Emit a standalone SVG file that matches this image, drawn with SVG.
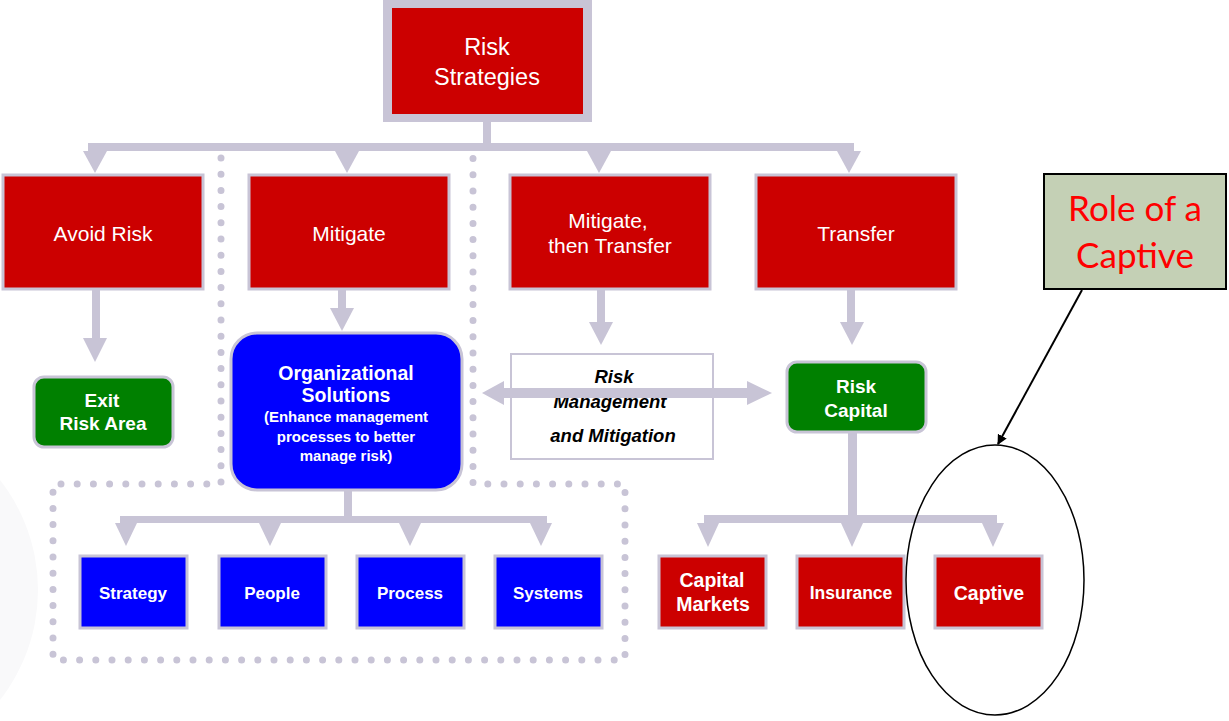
<svg xmlns="http://www.w3.org/2000/svg" width="1229" height="721" viewBox="0 0 1229 721">
  <style>
    .bg { fill: #ffffff; }
    .conn { fill: #C8C4D6; stroke: none; }
    .dots { fill: none; stroke: #C8C4D6; stroke-width: 7; stroke-linecap: round; stroke-dasharray: 0 16.2; }
    .red { fill: #CC0000; stroke: #C8C4D6; stroke-width: 3; }
    .blue { fill: #0000FF; stroke: #C8C4D6; stroke-width: 3; }
    .green { fill: #008000; stroke: #C8C4D6; stroke-width: 3; }
    .lbl { font-family: "Liberation Sans", Arial, sans-serif; fill: #ffffff; text-anchor: middle; }
    .reg { font-size: 21px; }
    .bold { font-weight: bold; }
    .note { font-family: "Liberation Sans", Arial, sans-serif; font-weight: bold; font-style: italic; font-size: 18.5px; fill: #000000; text-anchor: middle; }
    .callout { font-family: Lato, "Open Sans", sans-serif; font-size: 35px; fill: #FF0000; text-anchor: middle; }
  </style>
  <defs>
    <marker id="blackArrow" markerWidth="10" markerHeight="10" refX="9" refY="5" orient="auto" markerUnits="userSpaceOnUse">
      <path d="M0,0 L10,5 L0,10 z" fill="#000000"/>
    </marker>
  </defs>

  <rect class="bg" x="0" y="0" width="1229" height="721"/>
  <!-- faint backdrop arc at the lower left -->
  <circle cx="-140" cy="590" r="178" fill="#F9F9FA"/>

  <!-- dotted grouping around the mitigation branch -->
  <path class="dots" d="M221,158 V484 H53 V660 H625 V484 H473 V158"/>

  <g id="connectors">
    <!-- top tree -->
    <rect class="conn" x="483" y="118" width="8" height="30"/>
    <rect class="conn" x="88" y="143" width="766" height="8"/>
    <path class="conn" d="M83,151 H107 L95,173 z"/>
    <path class="conn" d="M335,151 H359 L347,173 z"/>
    <path class="conn" d="M587,151 H611 L599,173 z"/>
    <path class="conn" d="M837,151 H861 L849,173 z"/>

    <!-- Avoid Risk to Exit -->
    <rect class="conn" x="92" y="290" width="8" height="48"/>
    <path class="conn" d="M83,338 H107 L95,362 z"/>

    <!-- Mitigate to Organizational Solutions -->
    <rect class="conn" x="338" y="290" width="8" height="18"/>
    <path class="conn" d="M330,308 H354 L342,331 z"/>

    <!-- Mitigate, then Transfer down -->
    <rect class="conn" x="597" y="290" width="8" height="32"/>
    <path class="conn" d="M589,322 H613 L601,345 z"/>

    <!-- Transfer to Risk Capital -->
    <rect class="conn" x="847" y="290" width="8" height="32"/>
    <path class="conn" d="M840,322 H864 L852,345 z"/>

    <!-- organizational tree -->
    <rect class="conn" x="344" y="490" width="8" height="28"/>
    <rect class="conn" x="120" y="516" width="427" height="7"/>
    <path class="conn" d="M115,523 H137 L126,546 z"/>
    <path class="conn" d="M259,523 H281 L270,546 z"/>
    <path class="conn" d="M399,523 H421 L410,546 z"/>
    <path class="conn" d="M530,523 H552 L541,546 z"/>

    <!-- risk capital tree -->
    <rect class="conn" x="848" y="432" width="9" height="86"/>
    <rect class="conn" x="704" y="515" width="293" height="8"/>
    <path class="conn" d="M697,523 H719 L708,547 z"/>
    <path class="conn" d="M841,523 H863 L852,547 z"/>
    <path class="conn" d="M982,523 H1004 L993,547 z"/>
  </g>

  <g id="risk-strategies">
    <rect x="383" y="0" width="209" height="122" fill="#C8C4D6"/>
    <rect x="392" y="8" width="191" height="106" fill="#CC0000"/>
    <text class="lbl" x="487" y="55" font-size="23.5">Risk</text>
    <text class="lbl" x="487" y="85" font-size="23.5">Strategies</text>
  </g>

  <g id="avoid-risk">
    <rect class="red" x="3" y="175" width="200" height="114"/>
    <text class="lbl reg" x="103" y="241">Avoid Risk</text>
  </g>
  <g id="mitigate">
    <rect class="red" x="249" y="175" width="200" height="114"/>
    <text class="lbl reg" x="349" y="241">Mitigate</text>
  </g>
  <g id="mitigate-then-transfer">
    <rect class="red" x="510" y="175" width="200" height="114"/>
    <text class="lbl reg" x="608" y="228">Mitigate,</text>
    <text class="lbl reg" x="610" y="253">then Transfer</text>
  </g>
  <g id="transfer">
    <rect class="red" x="756" y="175" width="200" height="114"/>
    <text class="lbl reg" x="856" y="241">Transfer</text>
  </g>

  <g id="exit-risk-area">
    <rect class="green" x="34" y="377" width="139" height="70" rx="10"/>
    <text class="lbl bold" x="102" y="407" font-size="19">Exit</text>
    <text class="lbl bold" x="103" y="430" font-size="19">Risk Area</text>
  </g>

  <g id="organizational-solutions">
    <rect class="blue" x="231" y="333" width="231" height="157" rx="26"/>
    <text class="lbl bold" x="346" y="380" font-size="19.5">Organizational</text>
    <text class="lbl bold" x="346" y="402" font-size="19.5">Solutions</text>
    <text class="lbl bold" x="346" y="422" font-size="15">(Enhance management</text>
    <text class="lbl bold" x="346" y="442" font-size="15">processes to better</text>
    <text class="lbl bold" x="346" y="461" font-size="15">manage risk)</text>
  </g>

  <g id="risk-management-and-mitigation">
    <rect x="511" y="354" width="202" height="105" fill="#ffffff" stroke="#C8C4D6" stroke-width="2"/>
    <text class="note" x="614" y="383">Risk</text>
    <text class="note" x="610" y="408">Management</text>
    <text class="note" x="613" y="442">and Mitigation</text>
  </g>

  <g id="risk-capital">
    <rect class="green" x="787" y="362" width="139" height="70" rx="10"/>
    <text class="lbl bold" x="856" y="393" font-size="19">Risk</text>
    <text class="lbl bold" x="856" y="417" font-size="19">Capital</text>
  </g>

  <!-- two-way link between organizational solutions and risk capital -->
  <g id="connectors-two-way">
    <rect class="conn" x="500" y="388" width="250" height="10"/>
    <path class="conn" d="M482,393 L504,381 V405 z"/>
    <path class="conn" d="M772,393 L747,381 V405 z"/>
  </g>

  <g id="strategy">
    <rect class="blue" x="80" y="556" width="107" height="72"/>
    <text class="lbl bold" x="133" y="599" font-size="17">Strategy</text>
  </g>
  <g id="people">
    <rect class="blue" x="219" y="556" width="107" height="72"/>
    <text class="lbl bold" x="272" y="599" font-size="17">People</text>
  </g>
  <g id="process">
    <rect class="blue" x="357" y="556" width="107" height="72"/>
    <text class="lbl bold" x="410" y="599" font-size="17">Process</text>
  </g>
  <g id="systems">
    <rect class="blue" x="495" y="556" width="107" height="72"/>
    <text class="lbl bold" x="548" y="599" font-size="17">Systems</text>
  </g>

  <g id="capital-markets">
    <rect class="red" x="659" y="556" width="107" height="72"/>
    <text class="lbl bold" x="712" y="587" font-size="19.5">Capital</text>
    <text class="lbl bold" x="713" y="611" font-size="19.5">Markets</text>
  </g>
  <g id="insurance">
    <rect class="red" x="797" y="556" width="107" height="72"/>
    <text class="lbl bold" x="851" y="599" font-size="17.5">Insurance</text>
  </g>
  <g id="captive">
    <rect class="red" x="935" y="556" width="107" height="72"/>
    <text class="lbl bold" x="989" y="600" font-size="19.5">Captive</text>
  </g>

  <g id="role-of-a-captive">
    <rect x="1044" y="174" width="182" height="115" fill="#C4D0B5" stroke="#000000" stroke-width="2"/>
    <text class="callout" x="1135" y="221">Role of a</text>
    <text class="callout" x="1135" y="268">Captive</text>
  </g>

  <g id="captive-highlight">
    <line x1="1082" y1="290" x2="998" y2="444" stroke="#000000" stroke-width="2" marker-end="url(#blackArrow)"/>
    <ellipse cx="995" cy="580" rx="89" ry="135" fill="none" stroke="#000000" stroke-width="1.5"/>
  </g>
</svg>
